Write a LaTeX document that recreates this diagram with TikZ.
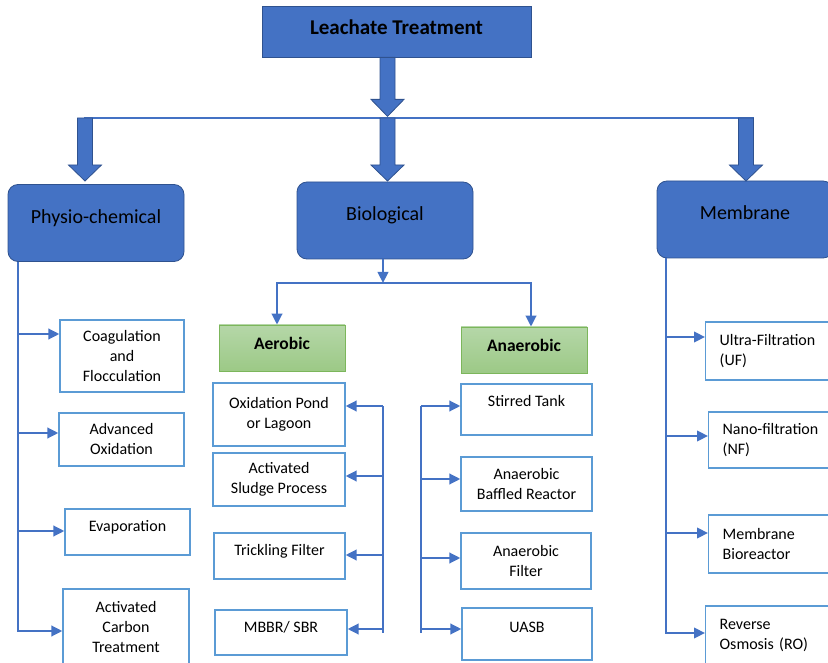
\documentclass[tikz,border=0pt]{standalone}
\usepackage{fontspec}
\setmainfont{Carlito}
\usetikzlibrary{arrows.meta,calc}

\definecolor{bluefill}{HTML}{4472C4}
\definecolor{blueedge}{HTML}{2F528F}
\definecolor{boxedge}{HTML}{5B9BD5}
\definecolor{greentop}{HTML}{B5D7A8}
\definecolor{greenbot}{HTML}{9CC986}
\definecolor{greenedge}{HTML}{7CB65B}

\begin{document}
\begin{tikzpicture}[
  x=1pt, y=-1pt,
  title/.style={draw=blueedge, line width=0.8pt, fill=bluefill, minimum width=269pt, minimum height=51pt, font=\fontsize{21}{25}\selectfont\bfseries, text height=15pt, text depth=8pt},
  cat/.style={draw=blueedge, line width=0.8pt, fill=bluefill, rounded corners=10pt, minimum width=176pt, minimum height=77pt, font=\fontsize{20}{24}\selectfont, text height=15pt, text depth=14pt},
  kind/.style={draw=greenedge, line width=0.8pt, top color=greentop, bottom color=greenbot, minimum width=126pt, minimum height=46pt, font=\fontsize{17.5}{21}\selectfont\bfseries, text height=13pt, text depth=10pt},
  sub/.style={draw=boxedge, line width=1.3pt, fill=white, align=center, inner sep=2pt, font=\fontsize{16}{20}\selectfont},
  lift/.style={text height=12pt, text depth=#1},
  mbox/.style={sub, align=left, text width=110pt, inner xsep=14pt, anchor=west},
  wire/.style={draw=bluefill, line width=2.3pt},
  arr/.style={wire, -{Triangle[length=11pt,width=10.5pt]}},
  bus/.style={draw=bluefill, line width=2.6pt},
  bigarrow/.style={fill=bluefill, draw=blueedge, line width=0.8pt, line join=miter}
]
\useasboundingbox (0,0) rectangle (828,663);

% --- top level ---------------------------------------------------------------
\node[title] (top) at (396.5,31.5) {Leachate Treatment};

\node[cat] (pc)  at (96,223)    {Physio-chemical};
\node[cat] (bio) at (385,220.5) {Biological};
\node[cat] (mem) at (745,219.5) {Membrane};

% --- block arrows and bus ------------------------------------------------------
\coordinate (hub) at (387.5,118);
\coordinate (busl) at (84,118);
\coordinate (busr) at (754,118);
\coordinate (a1) at (85,118);
\coordinate (a3) at (746,118);

\draw[bigarrow] (top.south -| hub) ++(-7.5,0) -- ++(0,42) -- ++(-9,0) -- ++(16.5,17) -- ++(16.5,-17) -- ++(-9,0) -- ++(0,-42) -- cycle;
\draw[bus] (busl) -- (busr);
\draw[bigarrow] (a1) ++(-7.5,0) -- ++(0,47) -- ++(-9,0) -- ++(16.5,16) -- ++(16.5,-16) -- ++(-9,0) -- ++(0,-47) -- cycle;
\draw[bigarrow] (hub) ++(-7.5,0) -- ++(0,47) -- ++(-9,0) -- ++(16.5,16) -- ++(16.5,-16) -- ++(-9,0) -- ++(0,-47) -- cycle;
\draw[bigarrow] (a3) ++(-7.5,0) -- ++(0,47) -- ++(-9,0) -- ++(16.5,16) -- ++(16.5,-16) -- ++(-9,0) -- ++(0,-47) -- cycle;

% --- physio-chemical -------------------------------------------------------------
\node[sub, minimum width=124pt, minimum height=72pt] (coag) at (122,356) {Coagulation\\and\\Flocculation};
\node[sub, minimum width=125pt, minimum height=53pt] (aox) at (121.5,439.5) {Advanced\\Oxidation};
\node[sub, lift=13pt, minimum width=125pt, minimum height=46pt] (evap) at (127.5,532) {Evaporation};
\node[sub, minimum width=126pt, minimum height=76pt] (gac) at (126,627) {Activated\\Carbon\\Treatment};

\coordinate (ps) at (18,632);
\draw[wire] (pc.south -| ps) -- (ps);
\draw[arr] (ps |- 0,334) -- (coag.west |- 0,334);
\draw[arr] (ps |- 0,433) -- (aox.west |- 0,433);
\draw[arr] (ps |- 0,531) -- (evap.west |- 0,531);
\draw[arr] (ps |- 0,631) -- (gac.west |- 0,631);

% --- biological ------------------------------------------------------------------
\node[kind] (aer) at (282,348) {Aerobic};
\node[kind] (ana) at (524,350) {Anaerobic};

\coordinate (bj) at (383,283);
\coordinate (bl) at (277,283);
\coordinate (br) at (531,283);
\draw[arr] (bio.south -| bj) -- (bj);
\draw[arr] (bj) -| (aer.north -| bl);
\draw[arr] (bj) -| (ana.north -| br);

\node[sub, minimum width=132pt, minimum height=63pt] (pond) at (279,414.5) {Oxidation Pond\\or Lagoon};
\node[sub, minimum width=132pt, minimum height=53pt] (asp) at (279,479.5) {Activated\\Sludge Process};
\node[sub, lift=13.5pt, minimum width=131pt, minimum height=46pt] (tf) at (279.5,556) {Trickling Filter};
\node[sub, lift=12pt, minimum width=132pt, minimum height=45pt] (mbbr) at (281,632.5) {MBBR/ SBR};

\coordinate (as1) at (383,406);
\coordinate (as2) at (383,633);
\draw[wire] (as1) -- (as2);
\draw[arr] (as1) -- (pond.east |- as1);
\draw[arr] (as1 |- 0,476) -- (asp.east |- 0,476);
\draw[arr] (as1 |- 0,555) -- (tf.east |- 0,555);
\draw[arr] (as1 |- 0,629) -- (mbbr.east |- 0,629);

\node[sub, lift=18pt, minimum width=131pt, minimum height=51pt] (st) at (526.5,409.5) {Stirred Tank};
\node[sub, minimum width=131pt, minimum height=54pt] (abr) at (526.5,484) {Anaerobic\\Baffled Reactor};
\node[sub, minimum width=130pt, minimum height=56pt] (af) at (526,561) {Anaerobic\\Filter};
\node[sub, lift=15pt, minimum width=130pt, minimum height=52pt] (uasb) at (527,634) {UASB};

\coordinate (ns1) at (421,406);
\coordinate (ns2) at (421,633);
\draw[wire] (ns1) -- (ns2);
\draw[arr] (ns1) -- (st.west |- ns1);
\draw[arr] (ns1 |- 0,479) -- (abr.west |- 0,479);
\draw[arr] (ns1 |- 0,558) -- (af.west |- 0,558);
\draw[arr] (ns1 |- 0,629) -- (uasb.west |- 0,629);

% --- membrane --------------------------------------------------------------------
\node[mbox, minimum height=58pt] (uf)  at (705,351) {Ultra-Filtration\\(UF)};
\node[mbox, minimum height=56pt] (nf)  at (708,440) {Nano-filtration\\(NF)};
\node[mbox, minimum height=58pt] (mbr) at (708,544) {Membrane\\Bioreactor};
\node[mbox, minimum height=58pt] (ro)  at (705,635) {Reverse\\Osmosis (RO)};

\coordinate (ms) at (666,634);
\draw[wire] (mem.south -| ms) -- (ms);
\draw[arr] (ms |- 0,337) -- (uf.west |- 0,337);
\draw[arr] (ms |- 0,436) -- (nf.west |- 0,436);
\draw[arr] (ms |- 0,533) -- (mbr.west |- 0,533);
\draw[arr] (ms |- 0,633) -- (ro.west |- 0,633);

\end{tikzpicture}
\end{document}
